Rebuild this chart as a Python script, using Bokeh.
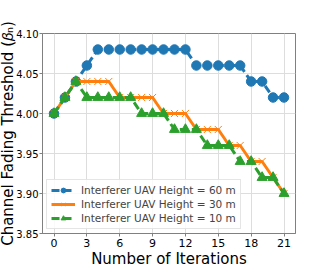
from bokeh.plotting import figure
from bokeh.models import Legend, LegendItem, FixedTicker, Range1d, PrintfTickFormatter, Title
from bokeh.embed import file_html
from bokeh.resources import INLINE

iterations = list(range(22))
h60 = [4.00, 4.02, 4.04, 4.06, 4.08, 4.08, 4.08, 4.08, 4.08, 4.08, 4.08, 4.08, 4.08,
       4.06, 4.06, 4.06, 4.06, 4.06, 4.04, 4.04, 4.02, 4.02]
h30 = [4.00, 4.02, 4.04, 4.04, 4.04, 4.04, 4.02, 4.02, 4.02, 4.02, 4.00, 4.00, 4.00,
       3.98, 3.98, 3.98, 3.96, 3.96, 3.94, 3.94, 3.92, 3.90]
h10 = [4.00, 4.02, 4.04, 4.02, 4.02, 4.02, 4.02, 4.02, 4.00, 4.00, 4.00, 3.98, 3.98,
       3.98, 3.96, 3.96, 3.96, 3.94, 3.94, 3.92, 3.92, 3.90]
x_ticks = [0, 3, 6, 9, 12, 15, 18, 21]
y_ticks = [3.85, 3.90, 3.95, 4.00, 4.05, 4.10]
labels = ["Interferer UAV Height = 60 m", "Interferer UAV Height = 30 m",
          "Interferer UAV Height = 10 m"]
y_label = "Channel Fading Threshold (\U0001D6FD\u2099)"
x_label = "Number of Iterations"

FONT = "DejaVu Sans"
p = figure(width=327, height=270, output_backend="svg", toolbar_location=None,
           x_range=Range1d(-1.05, 22.05), y_range=Range1d(3.85, 4.10),
           min_border_top=33, min_border_right=32, min_border_left=0, min_border_bottom=0)

p.outline_line_color = "#808080"
p.outline_line_width = 1
for ax in (p.xaxis[0], p.yaxis[0]):
    ax.axis_line_color = "#808080"
    ax.major_tick_line_color = "#808080"
    ax.minor_tick_line_color = None
    ax.major_tick_out = 3
    ax.major_tick_in = 0
    ax.major_label_standoff = 2
    ax.axis_label_standoff = 0
    ax.major_label_text_font = FONT
    ax.major_label_text_font_size = "10px"
    ax.major_label_text_color = "black"
    ax.axis_label_text_font = FONT
    ax.axis_label_text_font_size = "15px"
    ax.axis_label_text_font_style = "normal"
    ax.axis_label_text_color = "black"

p.xaxis.ticker = FixedTicker(ticks=x_ticks)
p.yaxis.ticker = FixedTicker(ticks=y_ticks)
p.yaxis.formatter = PrintfTickFormatter(format="%.2f")
p.yaxis.major_label_standoff = 1
p.xaxis.axis_label = x_label
p.xaxis.major_label_text_font_size = "11px"

ytitle = Title(text=y_label, align="center", text_font=FONT, text_font_size="15px",
               text_font_style="normal", text_color="black", standoff=-7, offset=0)
p.add_layout(ytitle, "left")

p.xgrid.ticker = FixedTicker(ticks=x_ticks)
p.ygrid.ticker = FixedTicker(ticks=y_ticks)
p.grid.grid_line_color = "#dddddd"
p.grid.grid_line_width = 1

c60, c30, c10 = "#1f77b4", "#ff7f0e", "#2ca02c"

l1 = p.line(iterations, h60, color=c60, line_width=3, line_dash="8 4")
m1 = p.scatter(iterations, h60, marker="circle", size=9.5, color=c60)
l2 = p.line(iterations, h30, color=c30, line_width=3)
m2 = p.scatter(iterations, h30, marker="x", size=10, line_color=c30, line_width=1)
l3 = p.line(iterations, h10, color=c10, line_width=3, line_dash="8 4")
m3 = p.scatter(iterations, h10, marker="triangle", size=10, color=c10)

legend = Legend(items=[LegendItem(label=labels[0], renderers=[l1, m1]),
                       LegendItem(label=labels[1], renderers=[l2, m2]),
                       LegendItem(label=labels[2], renderers=[l3, m3])],
                location="bottom_left")
legend.label_text_font = FONT
legend.label_text_font_size = "10.5px"
legend.label_height = 12
legend.glyph_height = 12
legend.glyph_width = 24
legend.spacing = 2
legend.padding = 4
legend.margin = 4
legend.label_standoff = 6
legend.border_line_color = "#cccccc"
legend.background_fill_alpha = 0.85
p.add_layout(legend)

open("out.html", "w").write(file_html(p, INLINE))
